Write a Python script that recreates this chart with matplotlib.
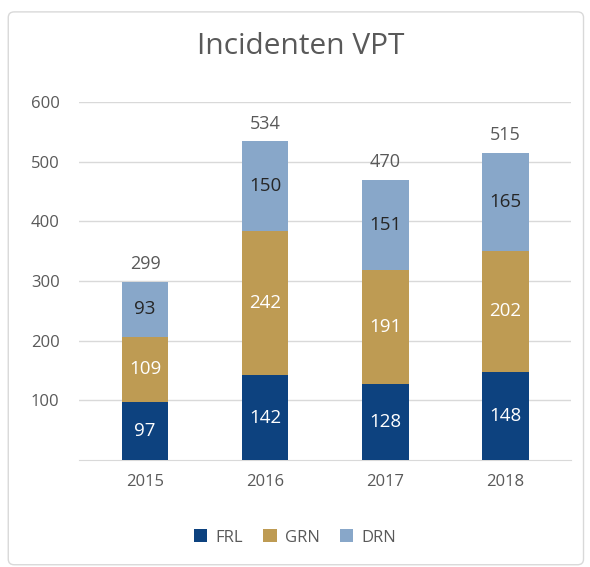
import matplotlib.pyplot as plt
from matplotlib.patches import FancyBboxPatch

years = ["2015", "2016", "2017", "2018"]
frl = [97, 142, 128, 148]
grn = [109, 242, 191, 202]
drn = [93, 150, 151, 165]
totals = [299, 534, 470, 515]

c_frl = "#0d427f"
c_grn = "#be9b53"
c_drn = "#88a7c9"
grey = "#595959"

plt.rcParams["font.family"] = ["Open Sans", "DejaVu Sans"]

fig = plt.figure(figsize=(5.9, 5.67), dpi=100)
ax = fig.add_axes([0.134, 0.189, 0.834, 0.631])

# chart border
border = FancyBboxPatch((0.014, 0.004), 0.975, 0.975, transform=fig.transFigure,
                        boxstyle="round,pad=0,rounding_size=0.01",
                        facecolor="none", edgecolor="#d9d9d9", linewidth=1)
fig.patches.append(border)

x = range(len(years))
w = 0.39
b1 = ax.bar(x, frl, w, color=c_frl, label="FRL", zorder=3)
b2 = ax.bar(x, grn, w, bottom=frl, color=c_grn, label="GRN", zorder=3)
bottom3 = [a + b for a, b in zip(frl, grn)]
b3 = ax.bar(x, drn, w, bottom=bottom3, color=c_drn, label="DRN", zorder=3)

ax.bar_label(b1, label_type="center", color="white", fontsize=13.5)
ax.bar_label(b2, label_type="center", color="white", fontsize=13.5)
ax.bar_label(b3, label_type="center", color="#262626", fontsize=13.5)
for i, t in enumerate(totals):
    ax.text(i, t + 14, str(t), ha="center", va="bottom", color=grey, fontsize=13)

ax.set_xlim(-0.55, 3.55)
ax.set_ylim(0, 600)
ax.set_yticks([100, 200, 300, 400, 500, 600])
ax.set_xticks(list(x))
ax.set_xticklabels(years)
ax.tick_params(axis="both", length=0, colors=grey, labelsize=12)
ax.tick_params(axis="y", pad=14)
ax.tick_params(axis="x", pad=10)
ax.grid(axis="y", color="#d9d9d9", linewidth=1, zorder=0)
for s in ["top", "right", "left"]:
    ax.spines[s].set_visible(False)
ax.spines["bottom"].set_color("#d9d9d9")

fig.text(0.51, 0.918, "Incidenten VPT", ha="center", va="center", fontsize=21.5, color=grey)

fig.legend(handles=[b1, b2, b3], loc="center", bbox_to_anchor=(0.5, 0.052), ncol=3,
           frameon=False, fontsize=12, labelcolor=grey, handlelength=0.8,
           handleheight=0.8, columnspacing=1.2, handletextpad=0.5)

fig.savefig("out.png", dpi=100)
